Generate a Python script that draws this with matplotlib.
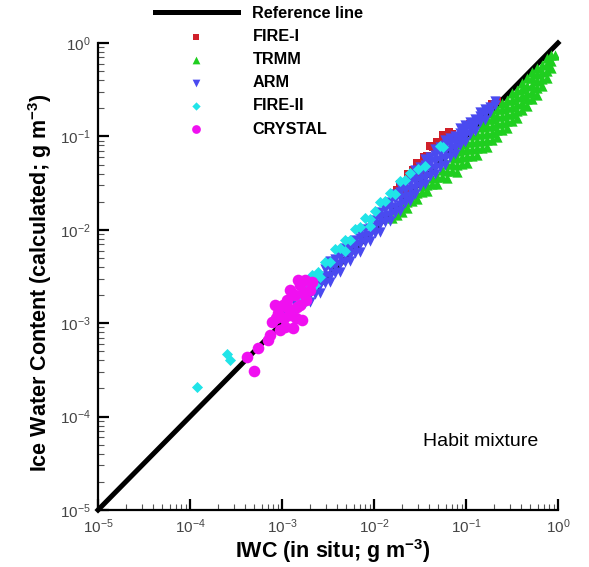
import matplotlib
matplotlib.use("Agg")
import matplotlib.pyplot as plt
from matplotlib.ticker import LogLocator

plt.rcParams['font.family'] = ['Liberation Sans', 'DejaVu Sans']
plt.rcParams['mathtext.fontset'] = 'custom'
plt.rcParams['mathtext.rm'] = 'Liberation Sans'
plt.rcParams['mathtext.it'] = 'Liberation Sans:italic'
plt.rcParams['mathtext.bf'] = 'Liberation Sans:bold'

# ---------------- data (g m^-3) ----------------
ref_x = [1e-5, 1.0]
ref_y = [1e-5, 1.0]

fire1_x = [1.609e-2, 1.778e-2, 1.92e-2, 2.119e-2, 2.342e-2, 2.654e-2, 2.934e-2, 3.16e-2,
           3.495e-2, 3.768e-2, 4.06e-2, 4.377e-2, 4.839e-2, 5.21e-2, 5.62e-2, 6.063e-2,
           6.535e-2, 7.044e-2, 0.2173, 0.1917, 0.1105, 7.59e-2, 3.16e-2, 2.17e-2]
fire1_y = [2.219e-2, 2.639e-2, 3.068e-2, 3.225e-2, 3.932e-2, 4.347e-2, 5.176e-2, 4.930e-2,
           6.015e-2, 6.172e-2, 7.905e-2, 7.721e-2, 8.749e-2, 8.534e-2, 0.1041, 9.689e-2,
           0.1125, 0.1072, 0.2399, 0.2224, 0.1346, 9.715e-2, 4.045e-2, 2.643e-2]

trmm_x = [1.569e-2,
          1.778e-2, 1.778e-2,
          2.015e-2, 2.015e-2,
          2.284e-2, 2.284e-2,
          2.588e-2, 2.588e-2,
          2.934e-2, 2.934e-2,
          3.325e-2, 3.325e-2,
          3.768e-2, 3.768e-2,
          4.270e-2, 4.270e-2,
          4.839e-2, 4.839e-2,
          5.484e-2, 5.484e-2,
          6.216e-2, 6.216e-2, 6.216e-2,
          7.044e-2, 7.044e-2, 7.044e-2,
          7.983e-2, 7.983e-2, 7.983e-2, 7.983e-2,
          9.048e-2, 9.048e-2, 9.048e-2, 9.048e-2,
          0.1025, 0.1025, 0.1025, 0.1025,
          0.1162, 0.1162, 0.1162, 0.1162,
          0.1317, 0.1317, 0.1317, 0.1317,
          0.1492, 0.1492, 0.1492, 0.1492, 0.1492,
          0.1691, 0.1691, 0.1691, 0.1691, 0.1691,
          0.1917, 0.1917, 0.1917, 0.1917, 0.1917,
          0.2173, 0.2173, 0.2173, 0.2173, 0.2173,
          0.2462, 0.2462, 0.2462, 0.2462, 0.2462,
          0.2791, 0.2791, 0.2791, 0.2791, 0.2791,
          0.3162, 0.3162, 0.3162, 0.3162, 0.3162,
          0.3584, 0.3584, 0.3584, 0.3584, 0.3584,
          0.4062, 0.4062, 0.4062, 0.4062, 0.4062,
          0.4603, 0.4603, 0.4603, 0.4603, 0.4603,
          0.5217, 0.5217, 0.5217, 0.5217, 0.5217,
          0.5912, 0.5912, 0.5912, 0.5912, 0.5912,
          0.6701, 0.6701, 0.6701, 0.6701,
          0.7594, 0.7594, 0.7594, 0.7594,
          0.8393, 0.8393, 0.8393,
          0.9277]
trmm_y = [1.352e-2,
          1.424e-2, 1.611e-2,
          1.535e-2, 1.781e-2,
          1.699e-2, 1.969e-2,
          2.021e-2, 2.345e-2,
          2.130e-2, 2.467e-2,
          2.534e-2, 2.939e-2,
          2.604e-2, 3.018e-2,
          3.100e-2, 3.591e-2,
          3.102e-2, 3.687e-2,
          3.696e-2, 4.393e-2,
          3.611e-2, 4.295e-2, 5.103e-2,
          4.297e-2, 5.114e-2, 6.072e-2,
          4.199e-2, 4.997e-2, 5.939e-2, 7.057e-2,
          5.004e-2, 5.945e-2, 7.066e-2, 8.197e-2,
          5.135e-2, 6.109e-2, 7.257e-2, 8.620e-2,
          6.112e-2, 7.274e-2, 8.645e-2, 0.1027,
          6.282e-2, 7.467e-2, 8.877e-2, 0.1055,
          7.475e-2, 8.892e-2, 0.1056, 0.1255, 0.1386,
          7.677e-2, 9.131e-2, 0.1084, 0.1289, 0.1532,
          9.144e-2, 0.1087, 0.1292, 0.1536, 0.1781,
          9.865e-2, 0.1173, 0.1393, 0.1656, 0.1969,
          0.1174, 0.1396, 0.1659, 0.1972, 0.2287,
          0.1236, 0.1468, 0.1747, 0.2077, 0.2467,
          0.1470, 0.1749, 0.2077, 0.2470, 0.2937,
          0.1588, 0.1885, 0.2244, 0.2666, 0.3168,
          0.1938, 0.2303, 0.2738, 0.3254, 0.3774,
          0.2090, 0.2486, 0.2951, 0.3507, 0.4170,
          0.2489, 0.2958, 0.3516, 0.4179, 0.4847,
          0.2749, 0.3269, 0.3884, 0.4617, 0.5356,
          0.3438, 0.4088, 0.4865, 0.5776,
          0.4199, 0.4989, 0.5931, 0.6880,
          0.5380, 0.6395, 0.7419,
          0.7431]

arm_x = [1.078e-3, 1.078e-3,
         1.222e-3,
         1.385e-3, 1.385e-3,
         1.569e-3, 1.569e-3,
         1.778e-3, 1.778e-3,
         2.015e-3, 2.015e-3, 2.015e-3,
         2.284e-3, 2.284e-3, 2.284e-3,
         2.59e-3, 2.59e-3, 2.59e-3,
         2.93e-3, 2.93e-3, 2.93e-3,
         3.32e-3, 3.32e-3, 3.32e-3, 3.32e-3,
         3.77e-3, 3.77e-3, 3.77e-3,
         4.27e-3, 4.27e-3, 4.27e-3, 4.27e-3,
         4.84e-3, 4.84e-3, 4.84e-3,
         5.48e-3, 5.48e-3, 5.48e-3, 5.48e-3,
         6.21e-3, 6.21e-3, 6.21e-3,
         7.04e-3, 7.04e-3, 7.04e-3, 7.04e-3,
         7.98e-3, 7.98e-3, 7.98e-3,
         9.05e-3, 9.05e-3, 9.05e-3, 9.05e-3,
         1.025e-2, 1.025e-2, 1.025e-2,
         1.161e-2, 1.161e-2, 1.161e-2, 1.161e-2,
         1.318e-2, 1.318e-2, 1.318e-2, 1.318e-2,
         1.493e-2, 1.493e-2, 1.493e-2, 1.493e-2,
         1.69e-2, 1.69e-2, 1.69e-2, 1.69e-2,
         1.92e-2, 1.92e-2, 1.92e-2, 1.92e-2, 1.92e-2,
         2.17e-2, 2.17e-2, 2.17e-2, 2.17e-2,
         2.46e-2, 2.46e-2, 2.46e-2, 2.46e-2, 2.46e-2,
         2.79e-2, 2.79e-2, 2.79e-2, 2.79e-2, 2.79e-2,
         3.16e-2, 3.16e-2, 3.16e-2, 3.16e-2,
         3.58e-2, 3.58e-2, 3.58e-2, 3.58e-2, 3.58e-2,
         4.06e-2, 4.06e-2, 4.06e-2, 4.06e-2,
         4.60e-2, 4.60e-2, 4.60e-2, 4.60e-2, 4.60e-2,
         5.21e-2, 5.21e-2, 5.21e-2, 5.21e-2,
         5.92e-2, 5.92e-2, 5.92e-2, 5.92e-2, 5.92e-2,
         6.70e-2, 6.70e-2, 6.70e-2, 6.70e-2,
         7.59e-2, 7.59e-2, 7.59e-2, 7.59e-2,
         8.61e-2, 8.61e-2, 8.61e-2, 8.61e-2,
         9.75e-2, 9.75e-2, 9.75e-2, 9.75e-2,
         0.1105, 0.1105, 0.1105,
         0.1253, 0.1253, 0.1253,
         0.1419, 0.1419, 0.1419,
         0.161, 0.161, 0.161,
         0.1824, 0.1824,
         0.2066, 0.2066]
arm_y = [1.078e-3, 1.250e-3,
         1.316e-3,
         1.319e-3, 1.607e-3,
         1.647e-3, 1.960e-3,
         1.652e-3, 2.011e-3,
         1.695e-3, 2.065e-3, 2.579e-3,
         2.069e-3, 2.522e-3, 3.072e-3,
         2.126e-3, 2.59e-3, 3.155e-3,
         2.722e-3, 3.235e-3, 3.844e-3,
         2.792e-3, 3.240e-3, 3.947e-3, 4.691e-3,
         3.416e-3, 4.060e-3, 4.826e-3,
         3.506e-3, 4.27e-3, 5.077e-3, 5.888e-3,
         4.496e-3, 5.343e-3, 6.350e-3,
         4.609e-3, 5.348e-3, 6.357e-3, 7.371e-3,
         5.626e-3, 6.521e-3, 7.756e-3,
         5.780e-3, 7.04e-3, 8.166e-3, 9.469e-3,
         7.413e-3, 8.594e-3, 1.021e-2,
         7.611e-3, 8.833e-3, 1.050e-2, 1.248e-2,
         9.287e-3, 1.076e-2, 1.280e-2,
         9.532e-3, 1.161e-2, 1.347e-2, 1.562e-2,
         1.224e-2, 1.419e-2, 1.687e-2, 1.908e-2,
         1.256e-2, 1.457e-2, 1.732e-2, 2.008e-2,
         1.531e-2, 1.775e-2, 2.111e-2, 2.447e-2,
         1.576e-2, 1.828e-2, 2.172e-2, 2.519e-2, 2.922e-2,
         1.918e-2, 2.224e-2, 2.643e-2, 3.066e-2,
         2.020e-2, 2.285e-2, 2.716e-2, 3.149e-2, 3.651e-2,
         2.405e-2, 2.79e-2, 3.317e-2, 3.847e-2, 4.352e-2,
         2.936e-2, 3.403e-2, 4.045e-2, 4.689e-2,
         3.086e-2, 3.58e-2, 4.257e-2, 4.937e-2, 5.721e-2,
         3.772e-2, 4.482e-2, 5.197e-2, 6.025e-2,
         3.965e-2, 4.60e-2, 5.469e-2, 6.343e-2, 7.351e-2,
         4.720e-2, 5.611e-2, 6.669e-2, 7.732e-2,
         4.979e-2, 5.92e-2, 7.039e-2, 8.164e-2, 9.235e-2,
         6.070e-2, 7.216e-2, 8.368e-2, 9.702e-2,
         6.543e-2, 7.59e-2, 8.804e-2, 0.1021,
         7.999e-2, 9.273e-2, 0.1075, 0.1217,
         8.619e-2, 9.994e-2, 0.1159, 0.1311,
         0.1052, 0.1220, 0.1414,
         0.1135, 0.1316, 0.1526,
         0.1419, 0.1646, 0.1816,
         0.1496, 0.1734, 0.1961,
         0.1824, 0.2063,
         0.2169, 0.2397]

fire2_x = [1.19e-4, 2.52e-4, 2.72e-4,
           1.284e-3, 1.569e-3, 1.778e-3, 2.12e-3, 2.284e-3, 2.46e-3, 2.59e-3, 2.93e-3,
           3.32e-3, 3.77e-3, 4.27e-3, 4.84e-3, 4.84e-3, 5.48e-3, 6.21e-3, 7.04e-3,
           7.98e-3, 9.05e-3, 9.05e-3, 1.025e-2, 1.161e-2, 1.318e-2, 1.493e-2, 1.69e-2,
           1.92e-2, 2.17e-2, 2.46e-2, 3.01e-2, 3.58e-2, 5.21e-2, 5.62e-2]
fire2_y = [2.08e-4, 4.70e-4, 4.06e-4,
           1.383e-3, 1.775e-3, 2.39e-3, 3.31e-3, 2.58e-3, 3.56e-3, 3.15e-3, 4.57e-3,
           4.47e-3, 6.18e-3, 6.34e-3, 7.73e-3, 5.90e-3, 7.74e-3, 1.017e-2, 1.071e-2,
           1.34e-2, 1.31e-2, 1.10e-2, 1.60e-2, 2.00e-2, 2.01e-2, 2.45e-2, 2.39e-2,
           3.30e-2, 3.39e-2, 4.03e-2, 4.47e-2, 4.82e-2, 7.93e-2, 7.75e-2]

crystal_x = [4.17e-4, 5.48e-4, 4.97e-4, 7.41e-4, 8.61e-4, 9.06e-4, 1.08e-3, 1.13e-3,
             1.32e-3, 1.46e-3, 1.69e-3, 1.65e-3, 1.22e-3, 1.38e-3, 1.03e-3, 1.57e-3,
             1.82e-3, 2.01e-3, 7.78e-4, 9.51e-4, 7.05e-4, 1.22e-3, 1.49e-3, 1.78e-3,
             2.12e-3, 1.42e-3, 1.05e-3, 8.40e-4, 1.57e-3, 1.16e-3]
crystal_y = [4.37e-4, 5.44e-4, 3.09e-4, 7.52e-4, 1.14e-3, 1.29e-3, 9.14e-4, 1.78e-3,
             8.93e-4, 1.50e-3, 2.12e-3, 1.09e-3, 1.23e-3, 2.01e-3, 1.57e-3, 2.58e-3,
             1.78e-3, 2.28e-3, 1.04e-3, 8.49e-4, 6.64e-4, 2.28e-3, 2.92e-3, 2.92e-3,
             2.78e-3, 1.14e-3, 1.14e-3, 1.57e-3, 1.57e-3, 1.46e-3]

x_label = 'IWC (in situ; g m$^{\\mathbf{-3}}$)'
y_label = 'Ice Water Content (calculated; g m$^{\\mathbf{-3}}$)'
annotation = 'Habit mixture'

# ---------------- figure ----------------
W, H = 589, 567
fig = plt.figure(figsize=(W / 100, H / 100), dpi=100)
L, R, T, B = 98, 558, 43, 510
ax = fig.add_axes([L / W, 1 - B / H, (R - L) / W, (B - T) / H])

ax.plot(ref_x, ref_y, color='black', lw=3.6, solid_capstyle='projecting',
        label='Reference line', zorder=1, clip_on=False)
ax.scatter(fire1_x, fire1_y, marker='s', s=36, color='#d0202a', linewidths=0,
           label='FIRE-I', zorder=2)
ax.scatter(trmm_x, trmm_y, marker='^', s=55, color='#1fce1f', linewidths=0,
           label='TRMM', zorder=3)
ax.scatter(arm_x, arm_y, marker='v', s=55, color='#4a4af0', linewidths=0,
           label='ARM', zorder=4)
ax.scatter(fire2_x, fire2_y, marker='D', s=32, color='#20e4e8', linewidths=0,
           label='FIRE-II', zorder=5)
ax.scatter(crystal_x, crystal_y, marker='o', s=70, color='#f010f0', linewidths=0,
           label='CRYSTAL', zorder=6)

ax.set_xscale('log')
ax.set_yscale('log')
ax.set_xlim(1e-5, 1)
ax.set_ylim(1e-5, 1)

for s in ('top', 'right'):
    ax.spines[s].set_visible(False)
for s in ('left', 'bottom'):
    ax.spines[s].set_linewidth(1.6)

ax.xaxis.set_major_locator(LogLocator(base=10, numticks=10))
ax.yaxis.set_major_locator(LogLocator(base=10, numticks=10))
ax.xaxis.set_minor_locator(LogLocator(base=10, subs=range(2, 10), numticks=20))
ax.yaxis.set_minor_locator(LogLocator(base=10, subs=range(2, 10), numticks=20))
ax.tick_params(which='major', direction='in', length=8, width=1.6,
               labelsize=11, colors='black', labelcolor='#444444', pad=5)
ax.tick_params(which='minor', direction='in', length=4, width=0.8, colors='#555555')

ax.set_xlabel(x_label, fontsize=15.5, fontweight='bold')
ax.set_ylabel(y_label, fontsize=15.5, fontweight='bold')
ax.xaxis.set_label_coords((333 - L) / (R - L), -(537 - B) / (B - T))
ax.yaxis.set_label_coords(-(98 - 54) / (R - L), (B - 283) / (B - T))

ax.text((423 - L) / (R - L), (B - 441) / (B - T), annotation, transform=ax.transAxes,
        fontsize=14, ha='left', va='center')

leg = fig.legend(loc='upper left', bbox_to_anchor=(155 / W, 1 - 6 / H),
                 frameon=False, handlelength=5.1, handletextpad=0.9,
                 labelspacing=0.5, borderpad=0, borderaxespad=0, markerscale=0.75,
                 scatterpoints=1, prop={'weight': 'bold', 'size': 11.7})

fig.savefig('out.png', dpi=100)
